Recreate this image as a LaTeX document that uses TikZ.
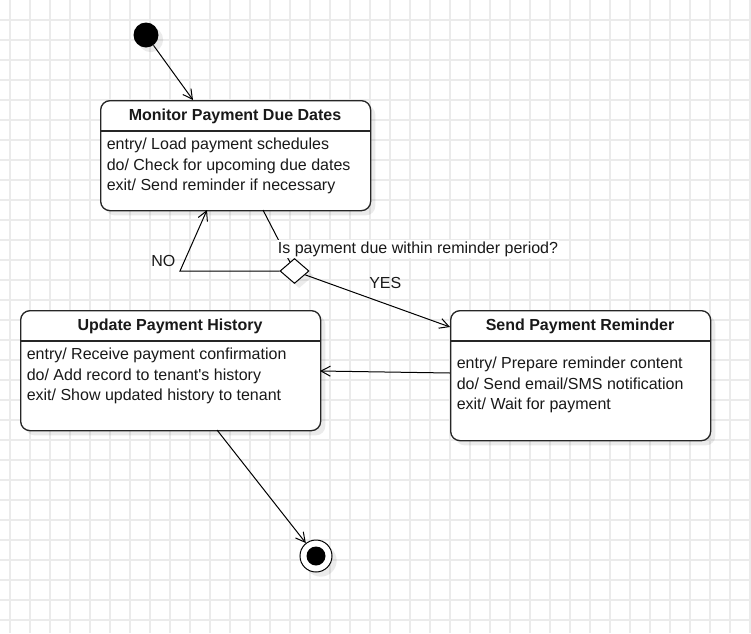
\documentclass[tikz,border=0pt]{standalone}
\usepackage{fontspec}
\setmainfont{Liberation Sans}
\usetikzlibrary{shapes.geometric, arrows.meta, shadows}

\begin{document}
\begin{tikzpicture}[x=0.75pt, y=-0.75pt,
        gridline/.style={line width=1.1pt, black!8},
        shade/.style={drop shadow={shadow xshift=3.5pt, shadow yshift=-3.5pt, fill=black, opacity=0.08}},
        txt/.style={font=\fontsize{12}{14}\selectfont, text=black!90},
        statebox/.style={draw=black!85, line width=1pt, rounded corners=7pt, fill=white, shade, anchor=north west, inner sep=0pt},
        title/.style={font=\fontsize{12}{14}\selectfont\bfseries, text=black!90, anchor=base, inner sep=0pt},
        row/.style={txt, anchor=base west, inner sep=0pt},
        arr/.style={-{Straight Barb[length=7pt, width=7.5pt]}, line width=0.75pt}]
    \useasboundingbox (0,0) rectangle (751,633);
    \foreach \gx in {10,30,...,750} \draw[gridline] (\gx,0) -- (\gx,633);
    \foreach \gy in {20,40,...,620} \draw[gridline] (0,\gy) -- (751,\gy);

    % states
    \node [circle, fill, shade, minimum size=18.75pt, inner sep=0pt] (init) at (146,35) {};
    \node [statebox, minimum width=202.5pt, minimum height=82.5pt] (mon) at (100,100) {};
    \draw [line width=1pt, black!85] (mon.north west) ++(0,31) -- ++(270,0);
    \node [title] (montitle) at (235,120.7) {Monitor Payment Due Dates};
    \node [row] (mon1) at (106.5,149.3) {entry/ Load payment schedules};
    \node [row] (mon2) at (106.5,170) {do/ Check for upcoming due dates};
    \node [row] (mon3) at (106.5,190.7) {exit/ Send reminder if necessary};

    \node [statebox, minimum width=225pt, minimum height=90pt] (upd) at (20,310) {};
    \draw [line width=1pt, black!85] (upd.north west) ++(0,31) -- ++(300,0);
    \node [title] (updtitle) at (170,330.7) {Update Payment History};
    \node [row] (upd1) at (26.5,359.3) {entry/ Receive payment confirmation};
    \node [row] (upd2) at (26.5,380) {do/ Add record to tenant\textquotesingle s history};
    \node [row] (upd3) at (26.5,400.7) {exit/ Show updated history to tenant};

    \node [statebox, minimum width=195pt, minimum height=97.5pt] (snd) at (450,310) {};
    \draw [line width=1pt, black!85] (snd.north west) ++(0,31) -- ++(260,0);
    \node [title] (sndtitle) at (580,330.7) {Send Payment Reminder};
    \node [row] (snd1) at (456.5,368.3) {entry/ Prepare reminder content};
    \node [row] (snd2) at (456.5,389) {do/ Send email/SMS notification};
    \node [row] (snd3) at (456.5,409.7) {exit/ Wait for payment};

    \node [diamond, draw, fill=white, shade, line width=0.75pt, minimum width=21.75pt, minimum height=18.75pt, inner sep=0pt] (dec) at (294.5,271) {};
    \node [circle, draw, fill=white, shade, line width=0.75pt, minimum size=24pt, inner sep=0pt] (fin) at (316,556) {};
    \node [circle, fill, minimum size=14.25pt, inner sep=0pt] (findot) at (fin) {};

    % transitions
    \coordinate (monin) at (193,100);
    \coordinate (monout) at (263,210);
    \coordinate (monno) at (207,210);
    \coordinate (nobend) at (180,271);
    \coordinate (sndin) at (450,327);
    \coordinate (sndout) at (450,373);
    \coordinate (updin) at (320,371);
    \coordinate (updout) at (217,430);
    \draw [arr] (init) -- (monin);
    \draw [line width=0.75pt] (monout) -- (dec);
    \node [txt, fill=white, inner sep=1pt] (ask) at (418,249) {Is payment due within reminder period?};
    \draw [arr] (dec.west) -- (nobend) -- (monno);
    \node [txt] (no) at (163.3,261) {NO};
    \draw [arr] (dec) -- (sndin);
    \node [txt] (yes) at (385.3,283) {YES};
    \draw [arr] (sndout) -- (updin);
    \draw [arr] (updout) -- (fin);
\end{tikzpicture}
\end{document}
